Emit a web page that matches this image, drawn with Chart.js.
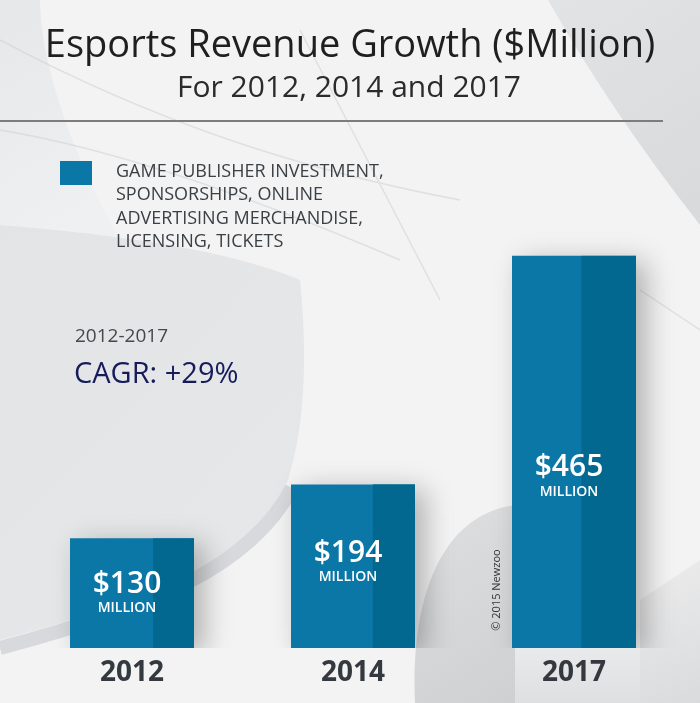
<!DOCTYPE html>
<html>
<head>
<meta charset="utf-8">
<title>Esports Revenue Growth</title>
<script src="https://cdn.jsdelivr.net/npm/chart.js@4.4.1/dist/chart.umd.min.js"></script>
<style>
  html, body { margin: 0; padding: 0; background: #eeeeef; }
  #chartRevenue { display: block; }
</style>
</head>
<body>
<canvas id="chartRevenue" width="700" height="703"></canvas>
<script>
// ---------- dados ----------
const years = ['2012', '2014', '2017'];
const revenue = [130, 194, 465];
const legendLines = [
    'GAME PUBLISHER INVESTMENT,',
    'SPONSORSHIPS, ONLINE',
    'ADVERTISING MERCHANDISE,',
    'LICENSING, TICKETS'
];
const chartTitle = 'Esports Revenue Growth ($Million)';
const chartSubtitle = 'For 2012, 2014 and 2017';
const cagrPeriod = '2012-2017';
const cagrText = 'CAGR: +29%';
const valueUnit = 'MILLION';
const credit = '\u00A9 2015 Newzoo';

const FONT = '"Open Sans", "Noto Sans", sans-serif';
const BAR_COLOR = '#0a77a7';
const BAR_DARK = '#03688f';

document.addEventListener("DOMContentLoaded", () => {
    const canvas = document.getElementById("chartRevenue");
    if (!canvas) return;

    // ---------- fundo (formas cinza/branco) ----------
    const backgroundPlugin = {
        id: 'background',
        beforeDraw(chart) {
            const g = chart.ctx;
            const w = chart.width, h = chart.height;
            g.save();
            g.fillStyle = '#f3f3f4';
            g.fillRect(0, 0, w, h);

            // canto superior esquerdo cinza
            let grd = g.createLinearGradient(0, 0, 120, 200);
            grd.addColorStop(0, '#e6e7e8');
            grd.addColorStop(1, '#eff0f1');
            g.fillStyle = grd;
            g.beginPath();
            g.moveTo(0, 0); g.lineTo(40, 0);
            g.bezierCurveTo(40, 60, 70, 150, 120, 240);
            g.lineTo(0, 240);
            g.closePath(); g.fill();

            // canto superior direito cinza
            grd = g.createLinearGradient(560, 0, 700, 200);
            grd.addColorStop(0, '#e2e3e5');
            grd.addColorStop(1, '#d9dadc');
            g.fillStyle = grd;
            g.beginPath();
            g.moveTo(548, 0); g.lineTo(700, 0); g.lineTo(700, 225);
            g.quadraticCurveTo(610, 110, 548, 0);
            g.closePath(); g.fill();

            // bloco cinza à esquerda
            grd = g.createLinearGradient(0, 230, 300, 520);
            grd.addColorStop(0, '#e3e4e5');
            grd.addColorStop(1, '#e6e7e8');
            g.fillStyle = grd;
            g.beginPath();
            g.moveTo(0, 225);
            g.bezierCurveTo(120, 235, 230, 250, 300, 280);
            g.bezierCurveTo(310, 380, 300, 440, 288, 480);
            g.bezierCurveTo(250, 560, 150, 600, 0, 640);
            g.closePath(); g.fill();

            // faixa escura sob a curva inferior esquerda
            g.strokeStyle = 'rgba(190,192,195,0.5)';
            g.lineWidth = 14;
            g.beginPath();
            g.moveTo(0, 648);
            g.bezierCurveTo(150, 608, 250, 568, 292, 488);
            g.stroke();

            // cúpula cinza à direita, atrás do copyright
            grd = g.createLinearGradient(400, 510, 520, 703);
            grd.addColorStop(0, '#dedfe0');
            grd.addColorStop(1, '#cfd0d2');
            g.fillStyle = grd;
            g.beginPath();
            g.moveTo(415, 703);
            g.bezierCurveTo(410, 600, 440, 515, 515, 505);
            g.lineTo(515, 703);
            g.closePath(); g.fill();

            // faixa inferior sob a barra de 2017
            grd = g.createLinearGradient(0, 648, 0, 703);
            grd.addColorStop(0, '#e9eaeb');
            grd.addColorStop(1, '#dedfe0');
            g.fillStyle = grd;
            g.fillRect(515, 648, 185, 55);

            // canto inferior direito
            grd = g.createLinearGradient(640, 560, 700, 703);
            grd.addColorStop(0, '#ececed');
            grd.addColorStop(1, '#dadbdc');
            g.fillStyle = grd;
            g.beginPath();
            g.moveTo(640, 600); g.lineTo(700, 560); g.lineTo(700, 703); g.lineTo(640, 703);
            g.closePath(); g.fill();

            // linhas finas decorativas
            g.strokeStyle = 'rgba(205,207,210,0.55)';
            g.lineWidth = 1.5;
            g.beginPath();
            g.moveTo(0, 40); g.bezierCurveTo(150, 120, 300, 170, 460, 200);
            g.moveTo(0, 130); g.bezierCurveTo(120, 150, 260, 200, 400, 260);
            g.moveTo(640, 290); g.lineTo(700, 330);
            g.moveTo(300, 30); g.lineTo(440, 300);
            g.stroke();
            g.restore();
        }
    };

    // ---------- sombra + parte escura + rótulos das barras ----------
    const barDecorPlugin = {
        id: 'barDecor',
        beforeDatasetsDraw(chart) {
            const g = chart.ctx;
            g.save();
            g.shadowColor = 'rgba(0,0,0,0.28)';
            g.shadowBlur = 26;
            g.shadowOffsetX = 10;
            g.shadowOffsetY = 6;
        },
        afterDatasetsDraw(chart, args, opts) {
            const g = chart.ctx;
            g.restore();
            const meta = chart.getDatasetMeta(0);
            const values = chart.data.datasets[0].data;
            meta.data.forEach((bar, i) => {
                const p = bar.getProps(['x', 'y', 'base', 'width'], true);
                const left = p.x - p.width / 2;
                const right = p.x + p.width / 2;
                const darkX = left + p.width * opts.darkFrac[i];
                g.save();
                g.fillStyle = BAR_DARK;
                g.fillRect(darkX, p.y, right - darkX, p.base - p.y);

                // valor dentro da barra
                const cy = p.y + (p.base - p.y) * opts.labelFrac[i];
                g.fillStyle = '#ffffff';
                g.textAlign = 'center';
                g.textBaseline = 'middle';
                g.font = '600 30px ' + FONT;
                g.fillText('$' + values[i], p.x - 5, cy);
                g.font = '600 14px ' + FONT;
                g.fillText(valueUnit, p.x - 5, cy + 24);
                g.restore();
            });
        }
    };

    // ---------- títulos, legenda e notas ----------
    const textPlugin = {
        id: 'texts',
        afterDraw(chart) {
            const g = chart.ctx;
            g.save();
            g.textAlign = 'center';
            g.textBaseline = 'alphabetic';
            g.fillStyle = '#1f1f1f';
            g.font = '400 38px ' + FONT;
            g.fillText(chartTitle, 350, 57);
            g.fillStyle = '#2b2b2b';
            g.font = '400 30px ' + FONT;
            g.fillText(chartSubtitle, 349, 97);

            // linha separadora
            g.strokeStyle = '#7d7d7d';
            g.lineWidth = 2;
            g.beginPath();
            g.moveTo(0, 121); g.lineTo(663, 121);
            g.stroke();

            // legenda
            g.fillStyle = BAR_COLOR;
            g.fillRect(60, 161, 32, 24);
            g.textAlign = 'left';
            g.fillStyle = '#3b4045';
            g.font = '400 18px ' + FONT;
            legendLines.forEach((line, i) => {
                g.fillText(line, 116, 177 + i * 23.3);
            });

            // CAGR
            g.fillStyle = '#45494d';
            g.font = '400 19px ' + FONT;
            g.fillText(cagrPeriod, 75, 342);
            g.fillStyle = '#161b5b';
            g.font = '400 29px ' + FONT;
            g.fillText(cagrText, 74, 383);

            // copyright vertical
            g.translate(497, 590);
            g.rotate(-Math.PI / 2);
            g.textAlign = 'center';
            g.textBaseline = 'middle';
            g.fillStyle = '#333333';
            g.font = '400 11px ' + FONT;
            g.fillText(credit, 0, 0);
            g.restore();
        }
    };

    new Chart(canvas.getContext("2d"), {
        type: 'bar',
        data: {
            labels: years,
            datasets: [{
                label: legendLines.join(' '),
                data: revenue,
                backgroundColor: BAR_COLOR,
                borderWidth: 0,
                categoryPercentage: 1,
                barPercentage: 0.561
            }]
        },
        options: {
            responsive: false,
            animation: false,
            layout: { padding: { top: 142, left: 21.5, right: 15.5, bottom: 5.4 } },
            plugins: {
                legend: { display: false },
                title: { display: false },
                tooltip: { enabled: false },
                barDecor: {
                    darkFrac: [0.67, 0.66, 0.56],
                    labelFrac: [0.42, 0.42, 0.54]
                }
            },
            scales: {
                x: {
                    grid: { display: false, drawTicks: false },
                    border: { display: false },
                    ticks: {
                        color: '#33393e',
                        padding: 8,
                        font: { family: FONT, size: 28, weight: 'bold' }
                    }
                },
                y: { display: false, min: 0, max: 600 }
            }
        },
        plugins: [backgroundPlugin, barDecorPlugin, textPlugin]
    });
});
</script>
</body>
</html>
